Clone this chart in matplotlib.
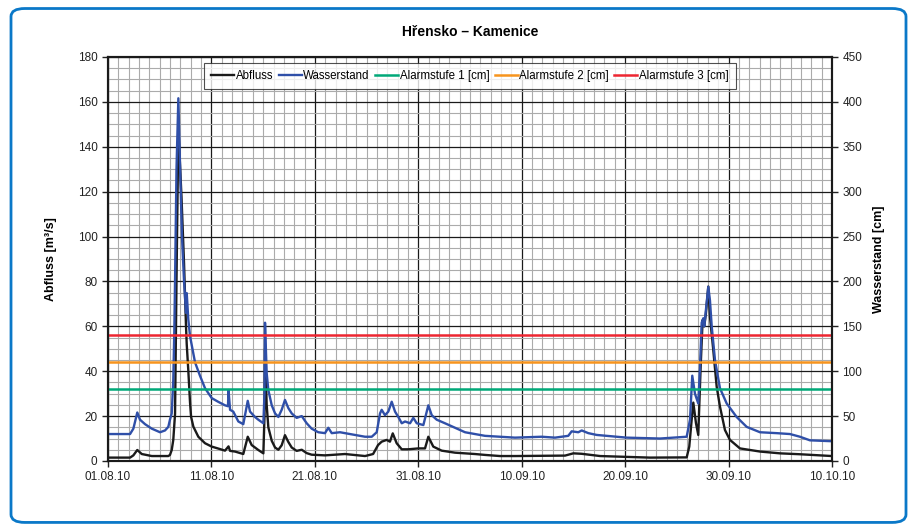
import numpy as np
import pandas as pd
import matplotlib
matplotlib.use('Agg')
import matplotlib.pyplot as plt
import matplotlib.dates as mdates
from matplotlib.patches import FancyBboxPatch

plt.rcParams['font.family'] = ['Liberation Sans', 'DejaVu Sans']

start = pd.Timestamp('2010-08-01')

abfluss_tage = [0, 2.13, 2.45, 2.83, 3.26, 4.23, 5.83, 5.99, 6.16, 6.31, 6.48, 6.62, 6.80, 7.10,
                7.35, 7.54, 7.61, 7.76, 7.93, 8.03, 8.25, 8.73, 9.38, 10.03, 10.83, 11.31, 11.65,
                11.80, 12.28, 13.08, 13.51, 13.89, 14.53, 15.02, 15.13, 15.18, 15.34, 15.50, 15.83,
                16.15, 16.47, 16.79, 17.11, 17.43, 17.76, 18.24, 18.73, 19.21, 19.69, 20.98, 22.91,
                24.85, 25.63, 26.11, 26.46, 26.94, 27.26, 27.53, 27.91, 28.40, 29.03, 30.00, 30.65,
                30.97, 31.45, 32.26, 33.55, 35.48, 36.45, 37.90, 39.35, 44.19, 44.99, 45.80, 47.58,
                52.40, 55.95, 56.20, 56.43, 56.59, 56.85, 57.07, 57.30, 57.49, 57.65, 57.81, 58.04,
                58.20, 58.52, 58.85, 59.17, 59.65, 60.13, 61.10, 63.04, 64.97, 66.90, 70.0]
abfluss = [1.5, 1.5, 2.5, 4.9, 3.1, 2.2, 2.2, 2.7, 4.9, 9.4, 21, 80, 148, 118,
           88, 60, 52, 40.5, 26, 19.7, 15.3, 10.8, 7.9, 6.4, 5.3, 4.6, 6.5,
           4.5, 4.2, 3.1, 10.8, 7.1, 4.9, 3.4, 20, 50, 25, 15, 9,
           6, 5, 7, 11.5, 8.5, 6, 4.5, 5, 3.5, 2.8, 2.5, 3.1,
           2.2, 3.1, 7.1, 8.6, 9.4, 8.6, 12.3, 7.9, 5.2, 5.2, 5.6, 5.6,
           10.8, 6.4, 4.6, 3.7, 3.1, 2.7, 2.2, 2.2, 2.4, 3.4, 3.2, 2.2,
           1.5, 1.6, 6.4, 18.3, 26, 16.8, 11.6, 42, 62.8, 60, 65.8, 77.7,
           64.3, 49.5, 33.1, 24.2, 13.8, 9.4, 5.6, 4.2, 3.4, 3.0, 2.2]

wasser_tage = [0, 2.13, 2.45, 2.83, 3.09, 3.58, 4.23, 5.03, 5.51, 5.83, 5.99, 6.16, 6.31, 6.41,
               6.48, 6.62, 6.80, 6.96, 7.15, 7.35, 7.54, 7.61, 7.76, 7.93, 8.41, 8.89, 9.38,
               10.03, 10.64, 11.31, 11.60, 11.65, 11.80, 12.11, 12.60, 13.08, 13.51, 13.73, 14.21,
               14.53, 15.02, 15.13, 15.18, 15.34, 15.50, 15.83, 16.15, 16.47, 16.79, 17.11, 17.43,
               17.76, 18.24, 18.73, 19.21, 19.69, 20.33, 20.98, 21.30, 21.63, 22.43, 22.91, 23.88,
               24.85, 25.50, 25.98, 26.30, 26.46, 26.78, 27.10, 27.43, 27.75, 28.07, 28.40, 28.72,
               29.20, 29.52, 29.85, 30.49, 30.97, 31.30, 31.78, 32.58, 33.55, 34.52, 35.48, 36.45,
               37.90, 39.35, 41.93, 43.22, 44.50, 44.83, 45.47, 45.80, 46.44, 47.25, 50.15, 53.37,
               55.95, 56.27, 56.49, 56.75, 57.07, 57.24, 57.40, 57.56, 57.65, 57.79, 58.04, 58.20,
               58.37, 58.69, 59.17, 59.82, 60.78, 61.75, 63.04, 64.65, 65.94, 66.90, 67.87, 70.0]
wasserstand = [30, 30, 36, 54, 46, 41, 36, 32, 34, 38, 46, 53, 90, 145,
               200, 325, 404, 330, 250, 200, 165, 187, 158, 139, 110, 95, 81,
               70, 66, 62, 61, 79, 57, 55, 44, 41, 67, 55, 49,
               46, 42, 75, 154, 98, 79, 62, 53, 49, 57, 68, 59,
               53, 48, 50, 42, 36, 32, 31, 37, 31, 32, 31, 29,
               27, 27, 32, 53, 57, 51, 55, 66, 55, 49, 42, 44,
               42, 48, 42, 40, 62, 51, 46, 42, 37, 32, 30, 28,
               27, 26, 27, 26, 28, 33, 32, 34, 31, 29, 26, 25,
               27, 46, 95, 75, 64, 105, 154, 159, 150, 166, 194, 179,
               150, 112, 81, 64, 49, 38, 32, 31, 30, 27, 23, 22]

alarmstufen = [80, 110, 140]
alarm_namen = ['Alarmstufe 1 [cm]', 'Alarmstufe 2 [cm]', 'Alarmstufe 3 [cm]']
alarm_farben = ['#00a878', '#f7941d', '#ed2530']

t_abfluss = start + pd.to_timedelta(abfluss_tage, unit='D')
t_wasser = start + pd.to_timedelta(wasser_tage, unit='D')
t0 = start
t1 = pd.Timestamp('2010-10-10')

fig = plt.figure(figsize=(9.17, 5.32), dpi=100)

# blauer Rahmen
rahmen = FancyBboxPatch((0.012, 0.018), 0.976, 0.966, boxstyle='round,pad=0,rounding_size=0.015',
                        transform=fig.transFigure, facecolor='none', edgecolor='#0a78c8',
                        linewidth=2, zorder=-1)
fig.patches.append(rahmen)

ax = fig.add_axes([0.1178, 0.1335, 0.7895, 0.7594])
ax2 = ax.twinx()

l1, = ax.plot(t_abfluss, abfluss, color='#1a1a1a', linewidth=1.7, label='Abfluss')
l2, = ax2.plot(t_wasser, wasserstand, color='#2f4fa8', linewidth=1.7, label='Wasserstand')
handles = [l1, l2]
for wert, name, farbe in zip(alarmstufen, alarm_namen, alarm_farben):
    h = ax2.axhline(wert, color=farbe, linewidth=1.8, label=name)
    handles.append(h)

ax.set_xlim(t0, t1)
ax.set_ylim(0, 180)
ax2.set_ylim(0, 450)
ax.set_yticks(np.arange(0, 181, 20))
ax2.set_yticks(np.arange(0, 451, 50))
ax.set_yticks(np.arange(0, 181, 5), minor=True)

ax.set_xticks(pd.date_range(t0, t1, freq='10D'))
ax.xaxis.set_minor_locator(mdates.DayLocator())
ax.xaxis.set_major_formatter(mdates.DateFormatter('%d.%m.%y'))

ax.grid(which='minor', color='#ababab', linewidth=0.8)
ax.grid(which='major', color='#1a1a1a', linewidth=0.9)
ax.set_axisbelow(True)

ax.tick_params(which='minor', length=0)
ax.tick_params(which='major', direction='out', length=4, width=1, labelsize=8.5, colors='#222222')
ax2.tick_params(direction='out', length=4, width=1, labelsize=8.5, colors='#222222')
for a in (ax, ax2):
    for s in a.spines.values():
        s.set_linewidth(1.5)
        s.set_color('#1a1a1a')

ax.set_ylabel('Abfluss [m³/s]', fontsize=9, fontweight='bold', labelpad=15)
ax2.set_ylabel('Wasserstand [cm]', fontsize=9, fontweight='bold', labelpad=8)
ax.set_title('Hřensko – Kamenice', fontsize=10, fontweight='bold', pad=15)

leg = ax2.legend(handles=handles, loc='upper center', bbox_to_anchor=(0.5, 0.985), ncol=5,
                 fontsize=8.3, frameon=True, fancybox=False, handlelength=2.0,
                 handletextpad=0.15, columnspacing=0.45, borderpad=0.6, borderaxespad=0)
leg.get_frame().set_edgecolor('#222222')
leg.get_frame().set_linewidth(0.8)

plt.savefig('out.png', dpi=100)
